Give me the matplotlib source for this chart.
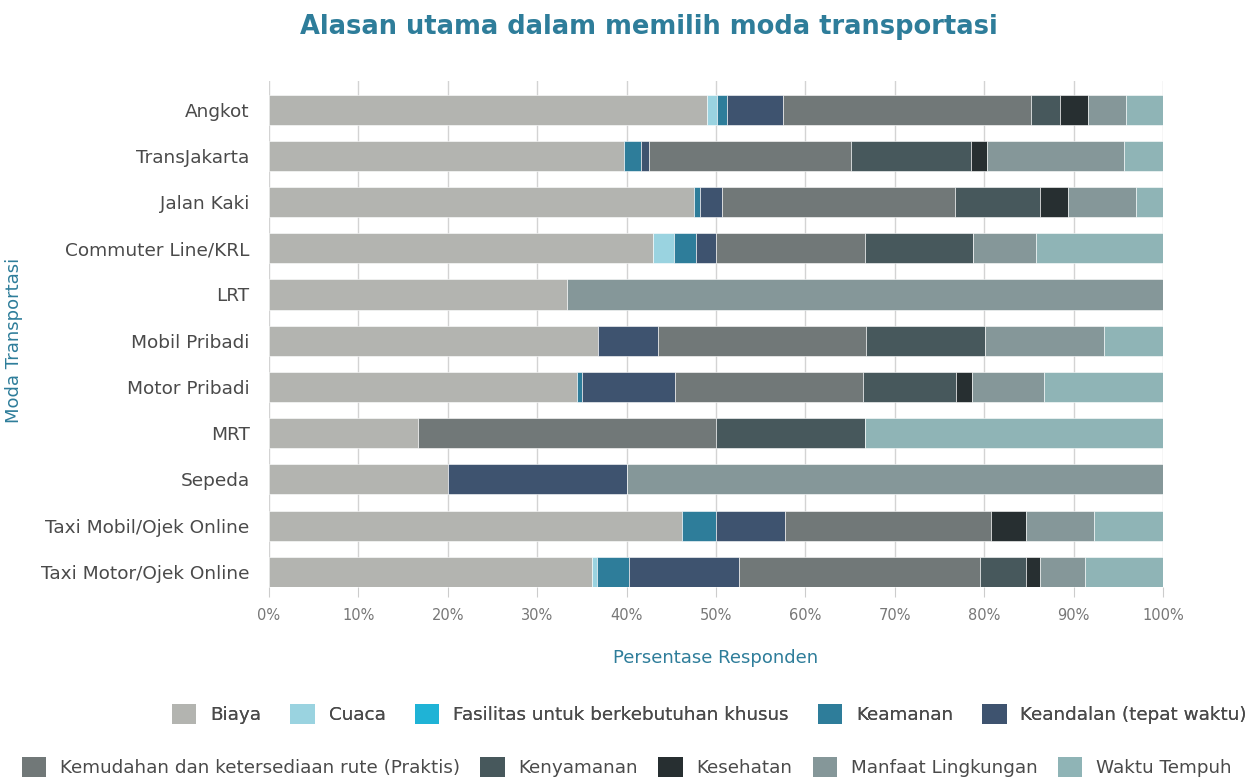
import matplotlib
matplotlib.use("Agg")
import matplotlib.pyplot as plt
from matplotlib.patches import Patch
import numpy as np

modes = ["Angkot", "TransJakarta", "Jalan Kaki", "Commuter Line/KRL", "LRT",
         "Mobil Pribadi", "Motor Pribadi", "MRT", "Sepeda",
         "Taxi Mobil/Ojek Online", "Taxi Motor/Ojek Online"]

reasons = ["Biaya", "Cuaca", "Fasilitas untuk berkebutuhan khusus", "Keamanan",
           "Keandalan (tepat waktu)", "Kemudahan dan ketersediaan rute (Praktis)",
           "Kenyamanan", "Kesehatan", "Manfaat Lingkungan", "Waktu Tempuh"]

colors = ["#b3b4b0", "#9ad3e0", "#1fb3d6", "#2e7d9a", "#3e536f",
          "#717878", "#47585c", "#272f31", "#859799", "#8fb4b6"]

# percentages per mode (rows) and reason (columns)
biaya      = [49.0, 39.7, 47.5, 43.0, 33.3, 36.8, 34.4, 16.7, 20.0, 46.2, 36.1]
cuaca      = [1.1, 0.0, 0.0, 2.3, 0.0, 0.0, 0.0, 0.0, 0.0, 0.0, 0.6]
fasilitas  = [0.0, 0.0, 0.0, 0.0, 0.0, 0.0, 0.0, 0.0, 0.0, 0.0, 0.0]
keamanan   = [1.1, 1.9, 0.7, 2.5, 0.0, 0.0, 0.6, 0.0, 0.0, 3.8, 3.6]
keandalan  = [6.3, 0.9, 2.5, 2.2, 0.0, 6.7, 10.4, 0.0, 20.0, 7.7, 12.3]
kemudahan  = [27.7, 22.6, 26.0, 16.7, 0.0, 23.3, 21.0, 33.3, 0.0, 23.1, 26.9]
kenyamanan = [3.3, 13.4, 9.5, 12.0, 0.0, 13.3, 10.5, 16.7, 0.0, 0.0, 5.2]
kesehatan  = [3.1, 1.8, 3.2, 0.0, 0.0, 0.0, 1.7, 0.0, 0.0, 3.9, 1.5]
manfaat    = [4.3, 15.3, 7.6, 7.1, 66.7, 13.3, 8.1, 0.0, 60.0, 7.6, 5.1]
waktu      = [4.1, 4.4, 3.0, 14.2, 0.0, 6.6, 13.3, 33.3, 0.0, 7.7, 8.7]

series = [biaya, cuaca, fasilitas, keamanan, keandalan, kemudahan,
          kenyamanan, kesehatan, manfaat, waktu]

xticks = [0, 10, 20, 30, 40, 50, 60, 70, 80, 90, 100]
xticklabels = [f"{t}%" for t in xticks]

FONT = "DejaVu Sans"
plt.rcParams["font.family"] = [FONT]

W, H = 1251, 781
fig = plt.figure(figsize=(W / 100, H / 100), dpi=100)
ax = fig.add_axes([269 / W, 1 - 587 / H, (1163 - 269) / W, (587 - 81) / H])

y = np.arange(len(modes))
data = np.array(series, dtype=float)
# normalise each mode to 100%
data = data / data.sum(axis=0) * 100
left = np.zeros(len(modes))
for vals, col in zip(data, colors):
    ax.barh(y, vals, left=left, height=0.65, color=col, edgecolor="white",
            linewidth=0.4, zorder=3)
    left += vals

ax.set_ylim(10.33, -0.62)
ax.set_xlim(0, 100)
ax.set_yticks(y)
ax.set_yticklabels(modes, fontsize=13.3, color="#4a4a4a")
ax.set_xticks(xticks)
ax.set_xticklabels(xticklabels, fontsize=10.5, color="#777777")
ax.tick_params(axis="y", length=0, pad=14)
ax.tick_params(axis="x", length=7, color="#cccccc", pad=8)
ax.grid(axis="x", color="#d3d3d3", linewidth=1, zorder=0)
for s in ax.spines.values():
    s.set_visible(False)

ax.set_xlabel("Persentase Responden", fontsize=13, color="#2e7d9a", labelpad=19)
fig.text(14 / W, 1 - 340 / H, "Moda Transportasi", rotation=90, fontsize=13,
         color="#2e7d9a", ha="center", va="center")

fig.text(649 / W, 1 - 27 / H, "Alasan utama dalam memilih moda transportasi",
         fontsize=18.5, fontweight="bold", color="#2e7d9a", ha="center", va="center")

handles = [Patch(facecolor=c, edgecolor="none") for c in colors]
leg_kw = dict(frameon=False, fontsize=13.2, handlelength=1.33, handleheight=1.33,
              handletextpad=0.75, borderaxespad=0, borderpad=0,
              labelcolor="#4a4a4a")
leg1 = fig.legend(handles[:5], reasons[:5], ncol=5, loc="center left",
                  bbox_to_anchor=(172 / W, 1 - 714 / H), columnspacing=1.6, **leg_kw)
fig.add_artist(leg1)
leg2 = fig.legend(handles[5:], reasons[5:], ncol=5, loc="center left",
                  bbox_to_anchor=(22 / W, 1 - 767 / H), columnspacing=1.1, **leg_kw)

fig.savefig("out.png", dpi=100)
